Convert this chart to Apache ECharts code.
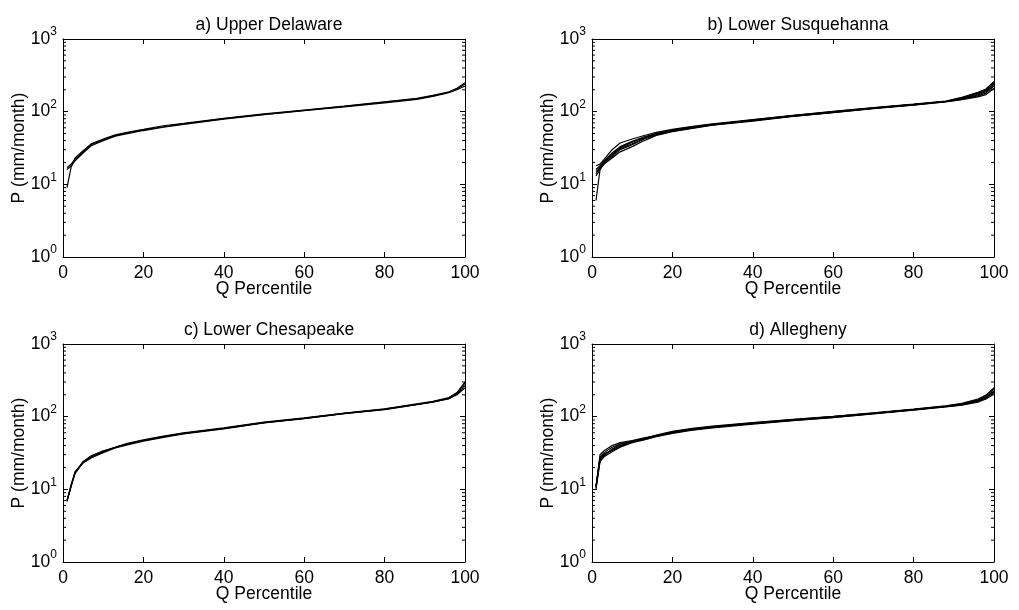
<!DOCTYPE html>
<html>
<head>
<meta charset="utf-8">
<title>P vs Q percentile</title>
<script src="https://cdn.jsdelivr.net/npm/echarts@6/dist/echarts.min.js"></script>
<style>
  html, body { margin: 0; padding: 0; background: #fff; }
  #chart { width: 1019px; height: 610px; }
</style>
</head>
<body>
<div id="chart"></div>
<script>
// percentile positions shared by every curve
var percentiles = [1, 2, 3, 5, 7, 10, 13, 16, 20, 25, 30, 40, 50, 60, 70, 80, 88, 92, 96, 98, 100];

var panelTitles = ['a) Upper Delaware', 'b) Lower Susquehanna', 'c) Lower Chesapeake', 'd) Allegheny'];

// a) Upper Delaware
var upperDelaware = [
  [17, 19, 22, 28, 35, 41, 47, 51, 56, 62, 68, 80, 92, 104, 118, 135, 150, 165, 185, 205, 240],
  [16, 18, 21, 27, 34, 40, 46, 50, 55, 61, 67, 79, 91, 103, 116, 132, 148, 162, 182, 200, 225],
  [9, 17, 23, 29, 36, 42, 48, 52, 57, 64, 69, 81, 93, 105, 119, 137, 152, 168, 188, 210, 250]
];

// b) Lower Susquehanna
var lowerSusquehanna = [
  [18, 19, 22, 30, 37, 42, 47, 52, 57, 63, 68, 78, 89, 101, 114, 127, 140, 158, 185, 205, 260],
  [16, 18, 21, 27, 33, 39, 45, 50, 55, 61, 67, 76, 88, 99, 112, 125, 138, 152, 175, 195, 240],
  [15, 17, 20, 25, 31, 36, 43, 49, 54, 60, 66, 75, 87, 98, 111, 124, 137, 148, 165, 180, 225],
  [14, 17, 19, 23, 28, 33, 40, 47, 53, 59, 65, 74, 86, 97, 110, 123, 136, 146, 160, 172, 210],
  [6, 16, 19, 24, 30, 35, 42, 48, 54, 60, 66, 77, 88, 100, 113, 126, 139, 150, 170, 188, 230],
  [13, 16, 20, 26, 32, 38, 44, 50, 56, 62, 67, 76, 87, 98, 112, 125, 138, 155, 180, 200, 250]
];

// c) Lower Chesapeake
var lowerChesapeake = [
  [7, 11, 17, 24, 28, 33, 38, 42, 47, 53, 59, 69, 83, 95, 111, 127, 148, 160, 180, 210, 290],
  [7, 11.5, 17.5, 23, 27, 32, 37, 41, 46, 52, 58, 68, 82, 94, 110, 125, 146, 158, 178, 205, 270],
  [7, 11, 17, 24, 29, 34, 38, 43, 48, 54, 60, 70, 84, 96, 112, 128, 150, 162, 183, 215, 300],
  [6.8, 11, 16.5, 23.5, 28, 33, 37.5, 42, 47, 53, 59, 69, 83, 95, 111, 126, 147, 159, 176, 200, 250]
];

// d) Allegheny
var allegheny = [
  [11, 30, 34, 40, 44, 47, 51, 55, 62, 68, 73, 82, 91, 100, 112, 126, 140, 150, 170, 190, 240],
  [10.5, 28, 32, 38, 42, 46, 50, 55, 61, 67, 72, 81, 90, 99, 111, 125, 138, 147, 165, 185, 225],
  [11, 26, 30, 35, 40, 45, 49, 54, 60, 66, 71, 80, 89, 98, 110, 124, 137, 145, 162, 180, 215],
  [10, 24, 28, 33, 38, 44, 48, 53, 59, 65, 70, 79, 88, 97, 109, 123, 136, 144, 158, 175, 205],
  [11, 25, 29, 36, 42, 46, 50, 56, 63, 69, 74, 83, 92, 101, 113, 127, 141, 152, 175, 198, 250],
  [10.8, 27, 31, 34, 39, 45, 49, 54, 61, 67, 72, 81, 90, 100, 111, 125, 139, 149, 168, 188, 220]
];

var panels = [upperDelaware, lowerSusquehanna, lowerChesapeake, allegheny];

// log minor tick values (2..9 of each decade)
var minorTickValues = [2, 3, 4, 5, 6, 7, 8, 9, 20, 30, 40, 50, 60, 70, 80, 90, 200, 300, 400, 500, 600, 700, 800, 900];

var FONT = 'Liberation Sans, Arial, Helvetica, sans-serif';
var FS = 17.5;
var boxes = [
  { left: 63, top: 39 },
  { left: 592, top: 39 },
  { left: 63, top: 344 },
  { left: 592, top: 344 }
];
var W = 402, H = 218;

var chart = echarts.init(document.getElementById('chart'), null, { renderer: 'canvas' });

var grids = [], xAxes = [], yAxes = [], titles = [], series = [];
var blackLine = { show: true, onZero: false, lineStyle: { color: '#000', width: 1 } };

boxes.forEach(function (b, i) {
  grids.push({ left: b.left, top: b.top, width: W, height: H, containLabel: false });
  titles.push({
    text: panelTitles[i],
    left: b.left + W / 2,
    top: b.top - 28,
    textAlign: 'center',
    textStyle: { fontFamily: FONT, fontSize: FS, fontWeight: 'normal', color: '#000' }
  });

  // bottom + top x axes
  xAxes.push({
    gridIndex: i, type: 'value', min: 0, max: 100, interval: 20,
    axisLine: blackLine,
    axisTick: { show: true, inside: true, length: 5, lineStyle: { color: '#000' } },
    axisLabel: { color: '#000', fontFamily: FONT, fontSize: FS, margin: 7 },
    splitLine: { show: false },
    name: 'Q Percentile', nameLocation: 'middle', nameGap: 23, nameMoveOverlap: false,
    nameTextStyle: { color: '#000', fontFamily: FONT, fontSize: FS }
  });
  xAxes.push({
    gridIndex: i, type: 'value', position: 'top', min: 0, max: 100, interval: 20,
    axisLine: blackLine,
    axisTick: { show: true, inside: true, length: 5, lineStyle: { color: '#000' } },
    axisLabel: { show: false },
    splitLine: { show: false }
  });

  // left + right log y axes
  yAxes.push({
    gridIndex: i, type: 'log', logBase: 10, min: 1, max: 1000,
    axisLine: blackLine,
    axisTick: { show: true, inside: true, length: 5, lineStyle: { color: '#000' } },
    axisLabel: {
      margin: 6,
      formatter: function (v) {
        return '{b|10}{s|' + Math.round(Math.log10(v)) + '}';
      },
      rich: {
        b: { fontFamily: FONT, fontSize: FS, color: '#000', lineHeight: 26 },
        s: { fontFamily: FONT, fontSize: 12, color: '#000', lineHeight: 11, verticalAlign: 'top' }
      }
    },
    splitLine: { show: false },
    name: 'P (mm/month)', nameLocation: 'middle', nameGap: 35, nameMoveOverlap: false,
    nameTextStyle: { color: '#000', fontFamily: FONT, fontSize: FS }
  });
  yAxes.push({
    gridIndex: i, type: 'log', logBase: 10, min: 1, max: 1000, position: 'right',
    axisLine: blackLine,
    axisTick: { show: true, inside: true, length: 5, lineStyle: { color: '#000' } },
    axisLabel: { show: false },
    splitLine: { show: false }
  });

  // the curves
  panels[i].forEach(function (vals) {
    series.push({
      type: 'line',
      xAxisIndex: i * 2, yAxisIndex: i * 2,
      showSymbol: false, silent: true,
      lineStyle: { color: '#000', width: 1.2 },
      data: percentiles.map(function (p, k) { return [p, vals[k]]; })
    });
  });

  // minor ticks on left and right edges, placed through the log scale
  series.push({
    type: 'custom',
    xAxisIndex: i * 2, yAxisIndex: i * 2,
    silent: true,
    data: minorTickValues.map(function (v) { return [0, v]; }),
    renderItem: function (params, api) {
      var v = api.value(1);
      var l = api.coord([0, v]);
      var r = api.coord([100, v]);
      var st = { stroke: '#000', lineWidth: 1 };
      return {
        type: 'group',
        children: [
          { type: 'line', shape: { x1: l[0], y1: l[1], x2: l[0] + 3, y2: l[1] }, style: st },
          { type: 'line', shape: { x1: r[0] - 3, y1: r[1], x2: r[0], y2: r[1] }, style: st }
        ]
      };
    }
  });
});

chart.setOption({
  animation: false,
  backgroundColor: '#fff',
  title: titles,
  grid: grids,
  xAxis: xAxes,
  yAxis: yAxes,
  series: series
});

window.addEventListener('resize', function () { chart.resize(); });
</script>
</body>
</html>
